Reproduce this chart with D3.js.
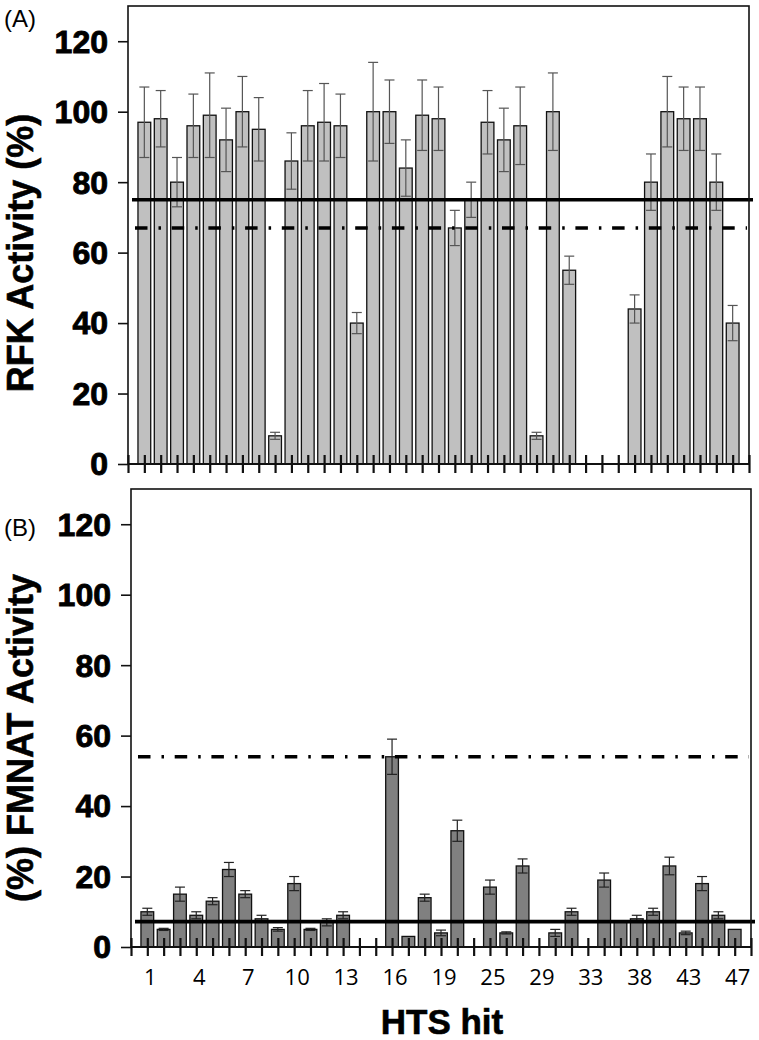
<!DOCTYPE html>
<html>
<head>
<meta charset="utf-8">
<script src="https://cdn.jsdelivr.net/npm/d3@7/dist/d3.min.js"></script>
<style>
body{margin:0;background:#fff;}
svg{display:block;}
</style>
</head>
<body>
<div id="chart"></div>
<script>
// one entry per slot on the x axis (slots 1..37), null = no bar
const rfkActivity = [97,98,80,96,99,92,100,95,8,86,96,97,96,40,100,100,84,99,98,67,75,97,92,96,8,100,55,null,null,null,44,80,100,98,98,80,40];
const rfkError    = [10,8,7,9,12,9,10,9,1,8,10,11,9,3,14,9,8,10,9,5,5,9,9,11,1,11,4,null,null,null,4,8,10,9,9,8,5];

const fmnatActivity = [10,5,15,9,13,22,15,8,5,18,5,7,9,null,null,54,3,14,4,33,null,17,4,23,null,4,10,null,19,7,8,10,23,4,18,9,5];
const fmnatError    = [1,0.3,2,1,1,2,1,1,0.5,2,0.3,1,1,null,null,5,0,1,0.8,3,null,2,0.3,2,null,1,1,null,2,0,1,1,2.5,0.5,2,1,0];

const hitLabels     = ["1","4","7","10","13","16","19","25","29","33","38","43","47"];
const hitLabelSlots = [1,4,7,10,13,16,19,22,25,28,31,34,37];

const yTicks = [0,20,40,60,80,100,120];
const rfkSolid = 75, rfkDashDot = 67;
const fmnatSolid = 7.2, fmnatDashDot = 54;

const W = 759, H = 1040;
const SLOTS = 38;
const BOLD_FONT = "'Liberation Sans', Arial, sans-serif";

const svg = d3.select("#chart").append("svg")
    .attr("width", W)
    .attr("height", H);

function renderPanel(cfg){
    let x = d3.scaleLinear().domain([0, SLOTS]).range([cfg.left, cfg.right]);
    let y = d3.scaleLinear().domain([0, 130]).range([cfg.bottom, cfg.top]);
    let g = svg.append("g");

    let data = cfg.values.map(function(v, i){
        return {slot: i + 1, value: v, err: cfg.errors[i]};
    }).filter(function(d){ return d.value !== null; });

    let bw = (x(1) - x(0)) * 0.78;

    // bars
    g.selectAll(".bar")
        .data(data)
        .enter().append("rect")
        .attr("class", "bar")
        .attr("x", function(d){ return x(d.slot) - bw / 2; })
        .attr("width", bw)
        .attr("y", function(d){ return y(d.value); })
        .attr("height", function(d){ return y(0) - y(d.value); })
        .attr("fill", cfg.fill)
        .attr("stroke", "#111")
        .attr("stroke-width", 1.3);

    // error bars
    let eb = g.selectAll(".err")
        .data(data.filter(function(d){ return d.err > 0; }))
        .enter().append("g")
        .attr("class", "err")
        .attr("stroke", cfg.errColor)
        .attr("stroke-width", 1.2);
    eb.append("line")
        .attr("x1", function(d){ return x(d.slot); })
        .attr("x2", function(d){ return x(d.slot); })
        .attr("y1", function(d){ return y(d.value - d.err); })
        .attr("y2", function(d){ return y(d.value + d.err); });
    [-1, 1].forEach(function(s){
        eb.append("line")
            .attr("x1", function(d){ return x(d.slot) - 5; })
            .attr("x2", function(d){ return x(d.slot) + 5; })
            .attr("y1", function(d){ return y(d.value + s * d.err); })
            .attr("y2", function(d){ return y(d.value + s * d.err); });
    });

    // threshold lines
    g.append("line")
        .attr("x1", cfg.left + 4).attr("x2", cfg.right + 4)
        .attr("y1", y(cfg.solid)).attr("y2", y(cfg.solid))
        .attr("stroke", "#000").attr("stroke-width", 3.6);
    g.append("line")
        .attr("x1", cfg.left + 7).attr("x2", cfg.right - 2)
        .attr("y1", y(cfg.dashDot)).attr("y2", y(cfg.dashDot))
        .attr("stroke", "#000").attr("stroke-width", 3.4)
        .attr("stroke-dasharray", "12.5,11,2.5,10.7");

    // frame
    g.append("rect")
        .attr("x", cfg.left).attr("y", cfg.top)
        .attr("width", cfg.right - cfg.left)
        .attr("height", cfg.bottom - cfg.top)
        .attr("fill", "none")
        .attr("stroke", "#111")
        .attr("stroke-width", 1.6);

    // y axis
    let yAxis = g.append("g")
        .attr("transform", "translate(" + cfg.left + ",0)")
        .call(d3.axisLeft(y).tickValues(yTicks).tickSize(10).tickPadding(10));
    yAxis.select(".domain").remove();
    yAxis.selectAll(".tick line").attr("stroke", "#111").attr("stroke-width", 1.6);
    yAxis.selectAll(".tick text")
        .attr("font-family", BOLD_FONT)
        .attr("font-weight", "bold")
        .attr("font-size", 32)
        .attr("fill", "#000")
        .attr("stroke", "#000")
        .attr("stroke-width", 0.9)
        .attr("dy", "0.34em");

    // x axis: ticks cross the baseline
    let xAxis = g.append("g")
        .attr("transform", "translate(0," + y(0) + ")")
        .call(d3.axisBottom(x).tickValues(d3.range(0, SLOTS + 1)).tickSize(9).tickFormat(""));
    xAxis.select(".domain")
        .attr("d", "M" + cfg.left + ",0H" + cfg.right)
        .attr("stroke", "#111").attr("stroke-width", 2.2);
    xAxis.selectAll(".tick line")
        .attr("y1", -9).attr("y2", 9)
        .attr("stroke", "#111").attr("stroke-width", 2.2);

    if(cfg.showLabels){
        g.selectAll(".hit-label")
            .data(hitLabels)
            .enter().append("text")
            .attr("class", "hit-label")
            .attr("x", function(d, i){ return x(hitLabelSlots[i]) + 3; })
            .attr("y", y(0) + 38)
            .attr("text-anchor", "middle")
            .attr("font-family", "'Open Sans', sans-serif")
            .attr("font-size", 22)
            .text(function(d){ return d; });
    }

    // axis title
    g.append("text")
        .attr("transform", "translate(33," + cfg.titleY + ") rotate(-90)")
        .attr("text-anchor", "middle")
        .attr("font-family", BOLD_FONT)
        .attr("font-weight", "bold")
        .attr("font-size", 36)
        .attr("stroke", "#000")
        .attr("stroke-width", 0.6)
        .text(cfg.title);

    // panel letter
    g.append("text")
        .attr("x", 4).attr("y", cfg.letterY)
        .attr("font-family", BOLD_FONT)
        .attr("font-size", 24)
        .text(cfg.letter);
}

renderPanel({
    left: 128, right: 749, top: 6, bottom: 464,
    values: rfkActivity, errors: rfkError,
    fill: "#c0c0c0", errColor: "#555",
    solid: rfkSolid, dashDot: rfkDashDot,
    title: "RFK Activity (%)", titleY: 253,
    letter: "(A)", letterY: 27,
    showLabels: false
});

renderPanel({
    left: 131, right: 751, top: 489, bottom: 947,
    values: fmnatActivity, errors: fmnatError,
    fill: "#808080", errColor: "#222",
    solid: fmnatSolid, dashDot: fmnatDashDot,
    title: "(%) FMNAT Activity", titleY: 738,
    letter: "(B)", letterY: 536,
    showLabels: true
});

svg.append("text")
    .attr("x", 442).attr("y", 1034)
    .attr("text-anchor", "middle")
    .attr("font-family", BOLD_FONT)
    .attr("font-weight", "bold")
    .attr("font-size", 35)
    .attr("stroke", "#000")
    .attr("stroke-width", 0.6)
    .text("HTS hit");
</script>
</body>
</html>
